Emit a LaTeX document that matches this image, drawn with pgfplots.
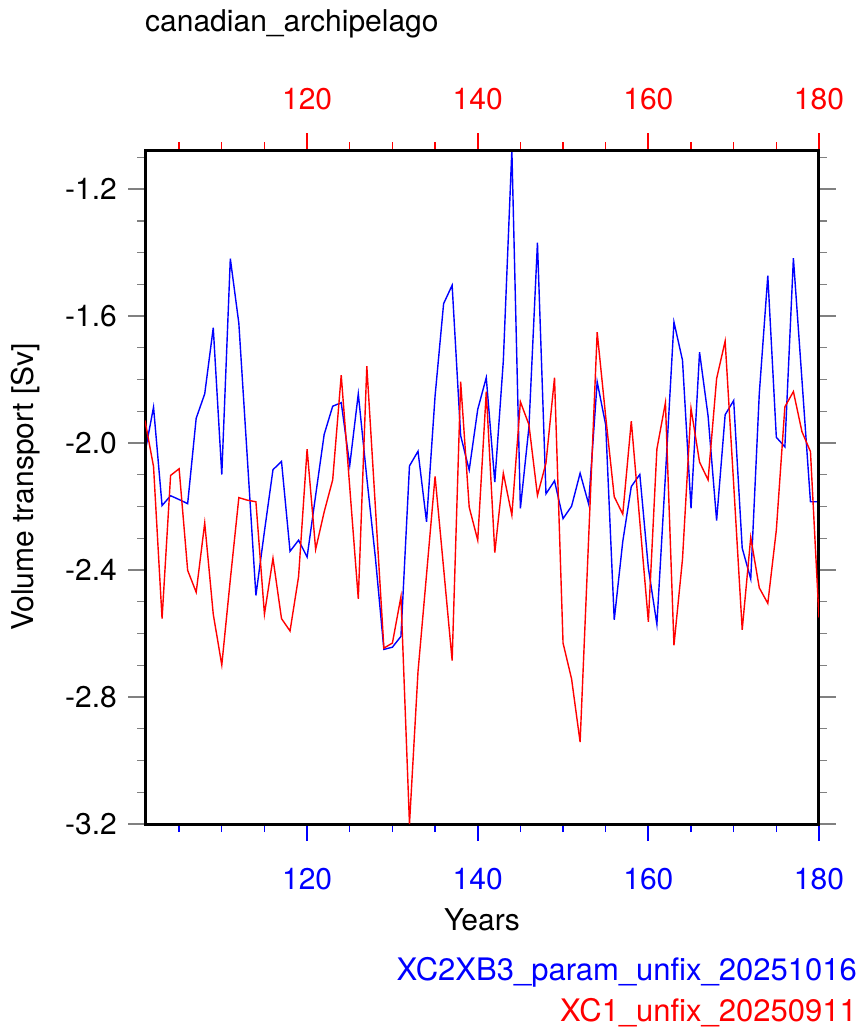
\documentclass[border=0pt]{standalone}
\usepackage{fontspec}
\setmainfont{TeX Gyre Heros}
\usepackage{pgfplots}
\usepackage{pgfplotstable}
\pgfplotsset{compat=1.18}

\definecolor{nclblue}{RGB}{0,0,255}
\definecolor{nclred}{RGB}{255,0,0}

% Annual-mean volume transport through the Canadian Archipelago [Sv]
\pgfplotstableread{
year  v
101 -2.030
102 -1.887
103 -2.197
104 -2.166
105 -2.178
106 -2.191
107 -1.922
108 -1.845
109 -1.637
110 -2.099
111 -1.419
112 -1.623
113 -2.050
114 -2.480
115 -2.278
116 -2.084
117 -2.058
118 -2.341
119 -2.306
120 -2.359
121 -2.165
122 -1.973
123 -1.884
124 -1.873
125 -2.070
126 -1.845
127 -2.110
128 -2.360
129 -2.650
130 -2.643
131 -2.609
132 -2.072
133 -2.026
134 -2.248
135 -1.852
136 -1.561
137 -1.503
138 -1.977
139 -2.085
140 -1.894
141 -1.794
142 -2.123
143 -1.741
144 -1.077
145 -2.206
146 -1.950
147 -1.369
148 -2.160
149 -2.119
150 -2.238
151 -2.199
152 -2.095
153 -2.192
154 -1.807
155 -1.943
156 -2.557
157 -2.310
158 -2.137
159 -2.099
160 -2.394
161 -2.571
162 -2.102
163 -1.619
164 -1.739
165 -2.206
166 -1.714
167 -1.915
168 -2.244
169 -1.911
170 -1.866
171 -2.331
172 -2.428
173 -1.845
174 -1.473
175 -1.982
176 -2.012
177 -1.418
178 -1.800
179 -2.185
180 -2.185
}\runXCtwo

\pgfplotstableread{
year  v
101 -1.929
102 -2.074
103 -2.553
104 -2.102
105 -2.081
106 -2.401
107 -2.470
108 -2.252
109 -2.539
110 -2.699
111 -2.430
112 -2.172
113 -2.180
114 -2.185
115 -2.539
116 -2.363
117 -2.553
118 -2.592
119 -2.421
120 -2.019
121 -2.335
122 -2.217
123 -2.116
124 -1.786
125 -2.140
126 -2.491
127 -1.758
128 -2.200
129 -2.646
130 -2.630
131 -2.484
132 -3.200
133 -2.720
134 -2.414
135 -2.105
136 -2.394
137 -2.685
138 -1.807
139 -2.202
140 -2.306
141 -1.838
142 -2.345
143 -2.095
144 -2.227
145 -1.870
146 -1.942
147 -2.165
148 -2.063
149 -1.794
150 -2.630
151 -2.743
152 -2.942
153 -2.300
154 -1.651
155 -1.917
156 -2.169
157 -2.224
158 -1.931
159 -2.248
160 -2.563
161 -2.019
162 -1.873
163 -2.637
164 -2.366
165 -1.891
166 -2.060
167 -2.116
168 -1.797
169 -1.679
170 -2.130
171 -2.588
172 -2.297
173 -2.456
174 -2.505
175 -2.274
176 -1.886
177 -1.838
178 -1.964
179 -2.027
180 -2.550
}\runXCone

\pgfplotsset{
  ts frame/.style={
    at={(145pt,-824pt)}, anchor=south west,
    scale only axis, width=674pt, height=674pt,
    xmin=101, xmax=180, ymin=-3.2, ymax=-1.077,
    tick align=outside,
    major tick length=17pt, minor tick length=8pt,
    major tick style={line width=2pt},
    minor tick style={line width=1.4pt},
    axis line style={line width=3pt},
    xtick={120,140,160,180},
    xticklabels={120,140,160,180},
    minor xtick={105,110,115,125,130,135,145,150,155,165,170,175},
  },
}

\begin{document}
\fontsize{30}{36}\selectfont
\begin{tikzpicture}
\useasboundingbox (0pt,0pt) rectangle (858pt,-1036pt);

% first run: bottom time axis (blue) and the y axis
\begin{axis}[ts frame,
    xtick pos=left, xticklabel pos=left,
    x tick style={color=nclblue},
    xticklabel style={text=nclblue, anchor=north, inner sep=0pt, yshift=-27pt},
    ytick={-3.2,-2.8,-2.4,-2.0,-1.6,-1.2},
    yticklabels={-3.2,-2.8,-2.4,-2.0,-1.6,-1.2},
    minor ytick={-3.1,-3.0,-2.9,-2.7,-2.6,-2.5,-2.3,-2.2,-2.1,-1.9,-1.8,-1.7,-1.5,-1.4,-1.3,-1.1},
    ytick pos=both, yticklabel pos=left,
    yticklabel style={anchor=east, inner sep=0pt, xshift=-11pt},
  ]
  \addplot[nclblue, line width=1.4pt] table[x=year, y=v] {\runXCtwo};
\end{axis}

% second run: top time axis (red)
\begin{axis}[ts frame,
    xtick pos=right, xticklabel pos=right,
    x tick style={color=nclred},
    xticklabel style={text=nclred, anchor=south, inner sep=0pt, yshift=23pt},
    ytick=\empty,
  ]
  \addplot[nclred, line width=1.4pt] table[x=year, y=v] {\runXCone};
\end{axis}

\node[anchor=base west, inner sep=0pt] at (145pt,-31pt) {canadian\_archipelago};
\node[anchor=base, inner sep=0pt] at (482pt,-930pt) {Years};
\node[anchor=base, inner sep=0pt, rotate=90] at (33pt,-487pt) {Volume transport [Sv]};
\begin{scope}[font=\fontsize{31}{37}\selectfont]
\node[anchor=base east, inner sep=0pt, text=nclblue] at (857pt,-980pt) {XC2XB3\_param\_unfix\_20251016};
\node[anchor=base east, inner sep=0pt, text=nclred] at (857pt,-1021pt) {XC1\_unfix\_20250911};
\end{scope}
\end{tikzpicture}
\end{document}
